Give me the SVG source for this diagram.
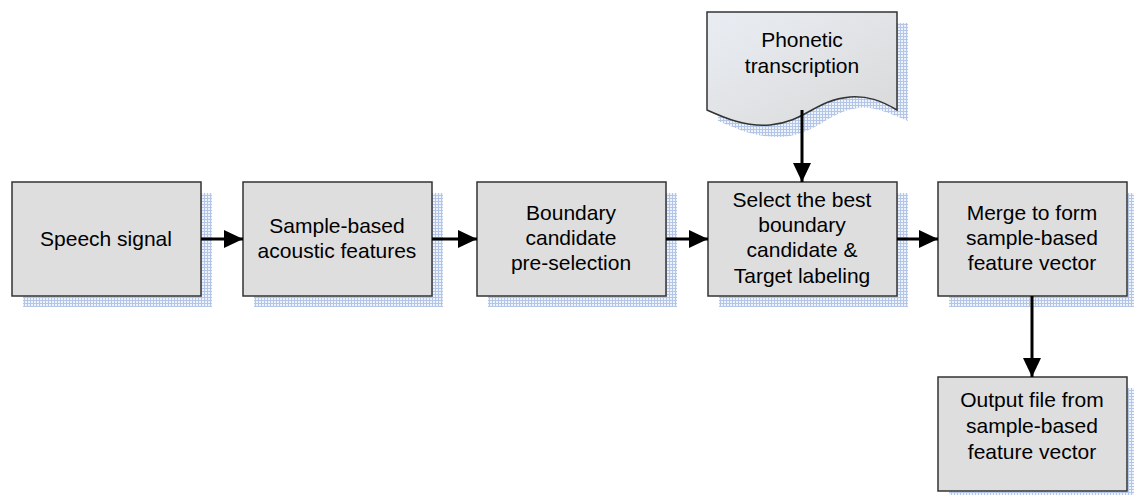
<svg xmlns="http://www.w3.org/2000/svg" width="1134" height="495" viewBox="0 0 1134 495">
<defs>
<pattern id="grid" width="3" height="3" patternUnits="userSpaceOnUse">
<rect width="3" height="3" fill="#eef2fa"/>
<path d="M0 0.5H3M0.5 0V3" stroke="#b3c6e8" stroke-width="1"/>
</pattern>
<linearGradient id="docfill" x1="0" y1="0" x2="1" y2="1">
<stop offset="0" stop-color="#e9edf3"/>
<stop offset="1" stop-color="#d9d9d9"/>
</linearGradient>
<marker id="arr" markerWidth="20" markerHeight="18" refX="19" refY="9" orient="auto" markerUnits="userSpaceOnUse">
<path d="M0 0L19 9L0 18Z" fill="#000"/>
</marker>
<style>
.box{fill:#dedede;stroke:#333;stroke-width:1.5}
.sh{fill:url(#grid)}
.t{font-family:"Liberation Sans",Arial,sans-serif;font-size:21px;fill:#000;text-anchor:middle}
.c{stroke:#000;stroke-width:3;fill:none;marker-end:url(#arr)}
</style>
</defs>
<rect width="1134" height="495" fill="#fff"/>
<g id="n1">
<rect class="sh" x="23" y="193" width="189" height="114"/>
<rect class="box" x="12" y="182" width="189" height="114"/>
<text class="t" x="106" y="246">Speech signal</text>
</g>
<g id="n2">
<rect class="sh" x="254" y="193" width="189" height="114"/>
<rect class="box" x="243" y="182" width="189" height="114"/>
<text class="t" x="337" y="233">Sample-based</text>
<text class="t" x="337" y="258">acoustic features</text>
</g>
<g id="n3">
<rect class="sh" x="488" y="193" width="189" height="114"/>
<rect class="box" x="477" y="182" width="189" height="114"/>
<text class="t" x="571" y="220">Boundary</text>
<text class="t" x="571" y="245">candidate</text>
<text class="t" x="571" y="270">pre-selection</text>
</g>
<g id="n4">
<rect class="sh" x="719" y="193" width="189" height="114"/>
<rect class="box" x="708" y="182" width="189" height="114"/>
<text class="t" x="802" y="207">Select the best</text>
<text class="t" x="802" y="232">boundary</text>
<text class="t" x="802" y="257">candidate &amp;</text>
<text class="t" x="802" y="283">Target labeling</text>
</g>
<g id="n5">
<rect class="sh" x="949" y="193" width="189" height="114"/>
<rect class="box" x="938" y="182" width="189" height="114"/>
<text class="t" x="1032" y="220">Merge to form</text>
<text class="t" x="1032" y="245">sample-based</text>
<text class="t" x="1032" y="270">feature vector</text>
</g>
<g id="n6">
<rect class="sh" x="949" y="388" width="189" height="114"/>
<rect class="box" x="938" y="377" width="189" height="114"/>
<text class="t" x="1032" y="407">Output file from</text>
<text class="t" x="1032" y="433">sample-based</text>
<text class="t" x="1032" y="459">feature vector</text>
</g>
<g id="doc">
<path class="sh" d="M718 23H908V121C885 111 870 106 858 108C830 112 820 130 790 136C760 140 740 130 718 121Z"/>
<path d="M707 12H897V110C880 100 868 96 850 97C815 100 805 122 770 125C745 127 725 118 707 110Z" fill="url(#docfill)" stroke="#333" stroke-width="1.5"/>
<text class="t" x="802" y="47">Phonetic</text>
<text class="t" x="802" y="73">transcription</text>
</g>
<g id="connectors">
<line class="c" x1="201" y1="239" x2="243" y2="239"/>
<line class="c" x1="432" y1="239" x2="477" y2="239"/>
<line class="c" x1="666" y1="239" x2="708" y2="239"/>
<line class="c" x1="897" y1="239" x2="938" y2="239"/>
<line class="c" x1="802" y1="110" x2="802" y2="182"/>
<line class="c" x1="1032" y1="296" x2="1032" y2="377"/>
</g>
</svg>
